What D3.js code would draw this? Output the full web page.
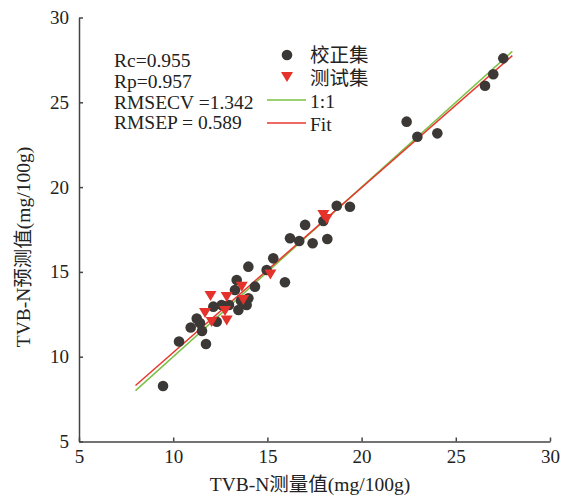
<!DOCTYPE html>
<html>
<head>
<meta charset="utf-8">
<script src="https://cdn.jsdelivr.net/npm/d3@7"></script>
<style>
  body { margin: 0; background: #fff; }
  svg { font-family: "Liberation Serif", "Times New Roman", "Noto Sans CJK SC", serif; }
  .axis path, .axis line { stroke: #444; stroke-width: 1.5; }
  .axis text { font-size: 19px; fill: #222; font-family: "Liberation Serif", serif; }
</style>
</head>
<body>
<svg id="chart" width="561" height="495"></svg>
<script>
// Kalibrierungsset (校正集): gemessen / vorhergesagt
const calX = [9.46, 10.31, 10.93, 11.25, 11.74, 11.42, 11.53, 12.13, 12.57, 12.31, 13.37, 13.28,
              13.99, 14.34, 13.99, 13.90, 13.46, 15.31, 14.96, 15.93, 16.20, 17.00, 16.69, 17.40,
              18.18, 17.97, 18.68, 19.38, 22.39, 22.96, 24.02, 26.55, 26.99, 27.52, 12.96, 13.60];
const calY = [8.27, 10.90, 11.72, 12.25, 10.75, 11.99, 11.52, 12.95, 13.05, 12.06, 14.52, 13.93,
              15.31, 14.13, 13.44, 13.05, 12.75, 15.80, 15.11, 14.39, 16.98, 17.77, 16.82, 16.69,
              16.94, 18.00, 18.90, 18.84, 23.86, 22.97, 23.17, 25.98, 26.65, 27.59, 13.05, 13.30];

// Testset (测试集)
const testX = [11.98, 11.69, 12.04, 12.84, 12.75, 12.84, 13.64, 13.72, 15.16, 17.97, 18.15];
const testY = [13.58, 12.58, 12.05, 13.52, 12.69, 12.13, 14.13, 13.34, 14.85, 18.36, 18.12];

// Linien: 1:1 und Regressionsgerade
const lineX = [8, 28];
const oneToOneY = [8, 28];
const fitY = [8.30, 27.75];

const ticks = [5, 10, 15, 20, 25, 30];
const statsText = ['Rc=0.955', 'Rp=0.957', 'RMSECV =1.342', 'RMSEP = 0.589'];
const legendLabels = ['校正集', '测试集', '1:1', 'Fit'];

const svg = d3.select('#chart');
const margin = { top: 17.5, right: 11, bottom: 53.5, left: 79 };
const width = 561 - margin.left - margin.right;
const height = 495 - margin.top - margin.bottom;

const g = svg.append('g')
    .attr('transform', `translate(${margin.left},${margin.top})`);

const x = d3.scaleLinear().domain([5, 30]).range([0, width]);
const y = d3.scaleLinear().domain([5, 30]).range([height, 0]);

// Achsen (Ticks nach innen)
g.append('g')
    .attr('class', 'axis')
    .attr('transform', `translate(0,${height})`)
    .call(d3.axisBottom(x).tickValues(ticks).tickSizeInner(-4).tickSizeOuter(0).tickPadding(8));

g.append('g')
    .attr('class', 'axis')
    .call(d3.axisLeft(y).tickValues(ticks).tickSizeInner(-4).tickSizeOuter(0).tickPadding(10));

// Achsentitel
svg.append('text')
    .attr('x', 310)
    .attr('y', 491)
    .attr('text-anchor', 'middle')
    .style('font-size', '19.5px')
    .style('fill', '#222')
    .text('TVB-N测量值(mg/100g)');

svg.append('text')
    .attr('transform', 'translate(30,247) rotate(-90)')
    .attr('text-anchor', 'middle')
    .style('font-size', '19.5px')
    .style('fill', '#222')
    .text('TVB-N预测值(mg/100g)');

// Linien
const line = d3.line().x(d => x(d[0])).y(d => y(d[1]));
g.append('path')
    .datum(lineX.map((v, i) => [v, oneToOneY[i]]))
    .attr('d', line)
    .attr('fill', 'none')
    .attr('stroke', '#7ac143')
    .attr('stroke-width', 1.5);
g.append('path')
    .datum(lineX.map((v, i) => [v, fitY[i]]))
    .attr('d', line)
    .attr('fill', 'none')
    .attr('stroke', '#e8372f')
    .attr('stroke-width', 1.5);

// Kalibrierungspunkte
g.selectAll('.cal')
    .data(calX.map((v, i) => [v, calY[i]]))
    .enter()
    .append('circle')
    .attr('class', 'cal')
    .attr('cx', d => x(d[0]))
    .attr('cy', d => y(d[1]))
    .attr('r', 5.3)
    .attr('fill', '#3b3836');

// Testpunkte (Dreieck nach unten)
const tri = 'M-6,-5L6,-5L0,5Z';
g.selectAll('.test')
    .data(testX.map((v, i) => [v, testY[i]]))
    .enter()
    .append('path')
    .attr('class', 'test')
    .attr('d', tri)
    .attr('transform', d => `translate(${x(d[0])},${y(d[1])})`)
    .attr('fill', '#e5322b');

// Statistik-Text
svg.selectAll('.stat')
    .data(statsText)
    .enter()
    .append('text')
    .attr('class', 'stat')
    .attr('x', 114)
    .attr('y', (d, i) => 67 + i * 20.8)
    .style('font-size', '19.5px')
    .style('fill', '#222')
    .text(d => d);

// Legende
const legend = svg.append('g');
legend.append('circle').attr('cx', 287).attr('cy', 55).attr('r', 5.3).attr('fill', '#3b3836');
legend.append('path').attr('d', tri).attr('transform', 'translate(287,77)').attr('fill', '#e5322b');
legend.append('line').attr('x1', 267).attr('x2', 306).attr('y1', 100).attr('y2', 100)
    .attr('stroke', '#7ac143').attr('stroke-width', 1.5);
legend.append('line').attr('x1', 267).attr('x2', 306).attr('y1', 123).attr('y2', 123)
    .attr('stroke', '#e8372f').attr('stroke-width', 1.5);

legend.selectAll('.leg-text')
    .data(legendLabels)
    .enter()
    .append('text')
    .attr('class', 'leg-text')
    .attr('x', 310)
    .attr('y', (d, i) => [62, 85, 108, 131][i])
    .style('font-size', '19.5px')
    .style('fill', '#222')
    .text(d => d);
</script>
</body>
</html>
